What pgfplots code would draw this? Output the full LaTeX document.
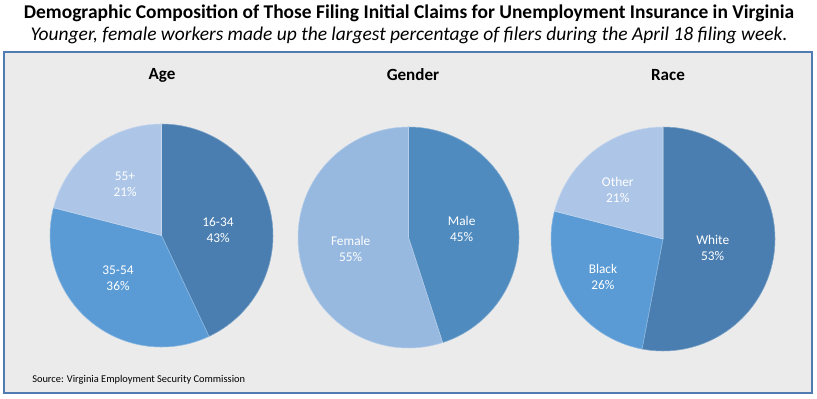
\documentclass[border=0pt]{standalone}
\usepackage{pgfplots}
\pgfplotsset{compat=1.18}
\usepackage{fontspec}
\setmainfont{Carlito}
\definecolor{panelbg}{HTML}{EBEBEB}
\definecolor{panelbd}{HTML}{4F7BB0}
\definecolor{cdark}{HTML}{4A7EB0}
\definecolor{cmale}{HTML}{4F8BBF}
\definecolor{cmid}{HTML}{5B9BD5}
\definecolor{clight}{HTML}{ADC6E7}
\definecolor{cfemale}{HTML}{97B9E0}
\tikzset{lbl/.style={text=white, font=\fontsize{10}{12}\selectfont, align=center, inner sep=0pt},
  ttl/.style={font=\fontsize{12.8}{15}\selectfont\bfseries, inner sep=0pt}}
\def\cum{0}
% \pieslice{percent}{colour}{label}{label x}{label y}
\newcommand\pieslice[5]{%
  \pgfmathsetmacro\pa{90-3.6*\cum}%
  \pgfmathsetmacro\pb{90-3.6*(\cum+#1)}%
  \edef\temp{\noexpand\addplot[fill=#2, draw=#2!70!white, line width=0.4pt, domain=\pb:\pa, samples=90] ({cos(x)},{sin(x)}) -- (axis cs:0,0) -- cycle;
  \noexpand\node[lbl] at (axis cs:#4,#5) {#3\noexpand\\#1\noexpand\%};}%
  \temp
  \pgfmathsetmacro\cumnew{\cum+#1}\global\let\cum\cumnew
}
\pgfplotsset{pie/.style={hide axis, scale only axis, axis equal image, clip=false,
  xmin=-1, xmax=1, ymin=-1, ymax=1, anchor=center}}
\begin{document}
\begin{tikzpicture}
\useasboundingbox (0,0) rectangle ({817*0.75pt},{-399*0.75pt});
\node[font=\fontsize{14.6}{17}\selectfont\bfseries, inner sep=0pt] at ({409*0.75pt},{-13*0.75pt}) {Demographic Composition of Those Filing Initial Claims for Unemployment Insurance in Virginia};
\node[font=\fontsize{14.6}{17}\selectfont\itshape, inner sep=0pt] at ({409*0.75pt},{-35*0.75pt}) {Younger, female workers made up the largest percentage of filers during the April 18 filing week.};
\draw[panelbd, fill=panelbg, line width=0.8pt] ({4*0.75pt},{-52*0.75pt}) rectangle ({812*0.75pt},{-393*0.75pt});
\node[ttl] at ({162*0.75pt},{-75*0.75pt}) {Age};
\node[ttl] at ({413*0.75pt},{-75*0.75pt}) {Gender};
\node[ttl] at ({668*0.75pt},{-75*0.75pt}) {Race};
\node[font=\fontsize{7.8}{9}\selectfont, anchor=west, inner sep=0pt] at ({32*0.75pt},{-380*0.75pt}) {Source: Virginia Employment Security Commission};
% Age
\begin{axis}[pie, width={223*0.75pt}, height={223*0.75pt}, at={({161.5*0.75pt},{-235.5*0.75pt})}]
\gdef\cum{0}
\pieslice{43}{cdark}{16-34}{0.507}{0.049}
\pieslice{36}{cmid}{35-54}{-0.39}{-0.381}
\pieslice{21}{clight}{55+}{-0.327}{0.462}
\end{axis}
% Gender
\begin{axis}[pie, width={221*0.75pt}, height={221*0.75pt}, at={({408.5*0.75pt},{-237.5*0.75pt})}]
\gdef\cum{0}
\pieslice{45}{cmale}{Male}{0.481}{0.080}
\pieslice{55}{cfemale}{Female}{-0.523}{-0.100}
\end{axis}
% Race
\begin{axis}[pie, width={224*0.75pt}, height={224*0.75pt}, at={({663*0.75pt},{-239*0.75pt})}]
\gdef\cum{0}
\pieslice{53}{cdark}{White}{0.444}{-0.080}
\pieslice{26}{cmid}{Black}{-0.536}{-0.339}
\pieslice{21}{clight}{Other}{-0.404}{0.440}
\end{axis}
\end{tikzpicture}
\end{document}
